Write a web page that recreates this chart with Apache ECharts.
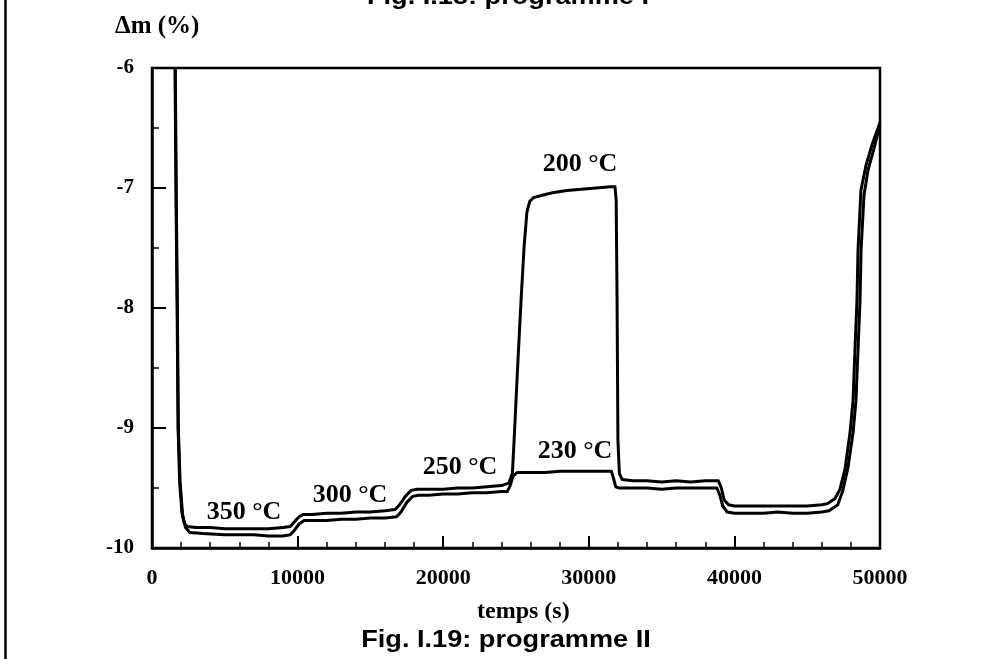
<!DOCTYPE html>
<html>
<head>
<meta charset="utf-8">
<script src="https://cdn.jsdelivr.net/npm/echarts@6/dist/echarts.min.js"></script>
<style>
  html, body { margin: 0; padding: 0; background: #fff; }
  #chart { width: 998px; height: 659px; }
</style>
</head>
<body>
<div id="chart"></div>
<script>
// Thermogravimetric runs: mass change (%) against time (s)
const xTicks = [0, 10000, 20000, 30000, 40000, 50000];
const yTicks = [-10, -9, -8, -7, -6];

// Upper curve (goes to the 200 °C plateau)
const timeA = [1580, 1650, 1720, 1790, 1900, 2050, 2200, 2400, 3000, 4000, 5000, 6000, 7000, 8000, 9000, 9500,
  9800, 10100, 10400, 11000, 12000, 13000, 14000, 15000, 16000, 16700, 17000, 17400, 17800, 18200, 19000, 20000,
  21000, 22000, 23000, 24000, 24500, 24750, 24850, 24950, 25150, 25350, 25550, 25750, 25950, 26200, 26800, 27500,
  28500, 29500, 30500, 31500, 31800, 31880, 31940, 32000, 32100, 32300, 33000, 34000, 35000, 36000, 37000, 38000,
  38900, 39100, 39300, 39600, 40000, 41000, 42000, 43000, 44000, 45000, 46000, 46400, 46900, 47250, 47600, 47940,
  48150, 48280, 48420, 48490, 48690, 49040, 49450, 49930, 50000];
const massA = [-6.00, -7.10, -7.95, -9.00, -9.45, -9.70, -9.79, -9.82, -9.83, -9.83, -9.84, -9.84, -9.84, -9.84, -9.83, -9.82,
  -9.78, -9.74, -9.72, -9.72, -9.71, -9.71, -9.70, -9.70, -9.69, -9.68, -9.64, -9.57, -9.52, -9.51, -9.51, -9.51,
  -9.50, -9.50, -9.49, -9.48, -9.46, -9.38, -9.15, -8.90, -8.40, -7.93, -7.50, -7.20, -7.11, -7.08, -7.06, -7.04,
  -7.02, -7.01, -7.00, -6.99, -6.99, -7.10, -7.90, -9.10, -9.38, -9.43, -9.44, -9.44, -9.45, -9.44, -9.45, -9.44,
  -9.44, -9.50, -9.60, -9.64, -9.65, -9.65, -9.65, -9.65, -9.65, -9.65, -9.64, -9.63, -9.59, -9.51, -9.34, -9.04,
  -8.77, -8.35, -7.93, -7.52, -7.02, -6.81, -6.64, -6.48, -6.45];

// Lower curve (stays on the 230 °C plateau)
const timeB = [1600, 1670, 1740, 1810, 1930, 2100, 2300, 2600, 3500, 5000, 6000, 7000, 8000, 9000, 9500, 9800,
  10100, 10450, 11000, 12000, 13000, 14000, 15000, 16000, 16800, 17100, 17500, 17900, 18300, 19000, 20000, 21000,
  22000, 23000, 24000, 24400, 24600, 24800, 25100, 26000, 27000, 28000, 29000, 30000, 31000, 31550, 31700, 31850,
  32100, 33000, 34000, 35000, 36000, 37000, 38000, 38800, 39000, 39200, 39500, 40000, 41000, 42000, 43000, 44000,
  45000, 46000, 46500, 47100, 47450, 47800, 48150, 48350, 48490, 48630, 48700, 48900, 49180, 49590, 50000];
const massB = [-6.00, -7.10, -7.95, -9.00, -9.45, -9.72, -9.83, -9.87, -9.88, -9.89, -9.89, -9.89, -9.90, -9.90, -9.89, -9.85,
  -9.80, -9.77, -9.77, -9.77, -9.76, -9.76, -9.75, -9.75, -9.74, -9.70, -9.62, -9.57, -9.56, -9.56, -9.55, -9.55,
  -9.54, -9.54, -9.53, -9.53, -9.48, -9.40, -9.37, -9.37, -9.37, -9.36, -9.36, -9.36, -9.36, -9.36, -9.42, -9.49,
  -9.50, -9.50, -9.50, -9.51, -9.50, -9.50, -9.50, -9.50, -9.56, -9.65, -9.70, -9.71, -9.71, -9.71, -9.70, -9.71,
  -9.71, -9.70, -9.69, -9.64, -9.52, -9.33, -9.04, -8.77, -8.35, -7.93, -7.52, -7.06, -6.85, -6.67, -6.47];

const stageLabels = ['350 °C', '300 °C', '250 °C', '230 °C', '200 °C'];

const pair = (xs, ys) => xs.map((x, i) => [x, ys[i]]);

const serif = '"Liberation Serif", "Times New Roman", serif';
const sans = '"Liberation Sans", Arial, sans-serif';

// where each stage label sits (pixels)
const labelPos = [[244, 512], [350, 495], [460, 467], [575, 451], [580, 164]];

const chart = echarts.init(document.getElementById('chart'), null, { renderer: 'canvas' });

const graphics = [
  { type: 'line', shape: { x1: 5.5, y1: 0, x2: 5.5, y2: 659 }, style: { stroke: '#000', lineWidth: 2.5 } },
  { type: 'text', x: 508, y: 9, scaleX: 1.18,
    style: { text: 'Fig. I.18: programme I', font: 'bold 23px ' + sans, fill: '#000', align: 'center', verticalAlign: 'bottom' } },
  { type: 'text', x: 115, y: 27,
    style: { text: 'Δm (%)', font: 'bold 25px ' + serif, fill: '#000', align: 'left', verticalAlign: 'middle' } },
  { type: 'text', x: 477, y: 612,
    style: { text: 'temps (s)', font: 'bold 24px ' + serif, fill: '#000', align: 'left', verticalAlign: 'middle' } },
  { type: 'text', x: 506, y: 641, scaleX: 1.18,
    style: { text: 'Fig. I.19: programme II', font: 'bold 23px ' + sans, fill: '#000', align: 'center', verticalAlign: 'middle' } }
];
stageLabels.forEach((t, i) => {
  graphics.push({ type: 'text', x: labelPos[i][0], y: labelPos[i][1],
    style: { text: t, font: 'bold 26px ' + serif, fill: '#000', align: 'center', verticalAlign: 'middle' } });
});

const lineSeries = (name, data) => ({
  name, type: 'line', data, showSymbol: false, symbol: 'none', clip: true,
  lineStyle: { color: '#000', width: 3, join: 'round' }, animation: false
});

const plain = v => String(v);

chart.setOption({
  backgroundColor: '#fff',
  animation: false,
  grid: { left: 152, right: 118, top: 68, bottom: 111, show: true, borderColor: '#000', borderWidth: 2.5, backgroundColor: 'transparent' },
  xAxis: {
    type: 'value', min: xTicks[0], max: xTicks[xTicks.length - 1], interval: xTicks[1] - xTicks[0],
    axisLine: { lineStyle: { color: '#000', width: 2.5 } },
    axisTick: { inside: true, length: 12, lineStyle: { color: '#000', width: 2 } },
    minorTick: { show: true, splitNumber: 5, length: 6, lineStyle: { color: '#000', width: 1.5 } },
    splitLine: { show: false },
    axisLabel: { margin: 19, color: '#000', fontFamily: serif, fontWeight: 'bold', fontSize: 22, formatter: plain }
  },
  yAxis: {
    type: 'value', min: yTicks[0], max: yTicks[yTicks.length - 1], interval: yTicks[1] - yTicks[0],
    axisLine: { lineStyle: { color: '#000', width: 2.5 } },
    axisTick: { inside: true, length: 14, lineStyle: { color: '#000', width: 2 } },
    minorTick: { show: true, splitNumber: 2, length: 7, lineStyle: { color: '#000', width: 1.5 } },
    splitLine: { show: false },
    axisLabel: { margin: 18, color: '#000', fontFamily: serif, fontWeight: 'bold', fontSize: 21, formatter: plain }
  },
  series: [lineSeries('A', pair(timeA, massA)), lineSeries('B', pair(timeB, massB))],
  graphic: graphics
});
</script>
</body>
</html>
